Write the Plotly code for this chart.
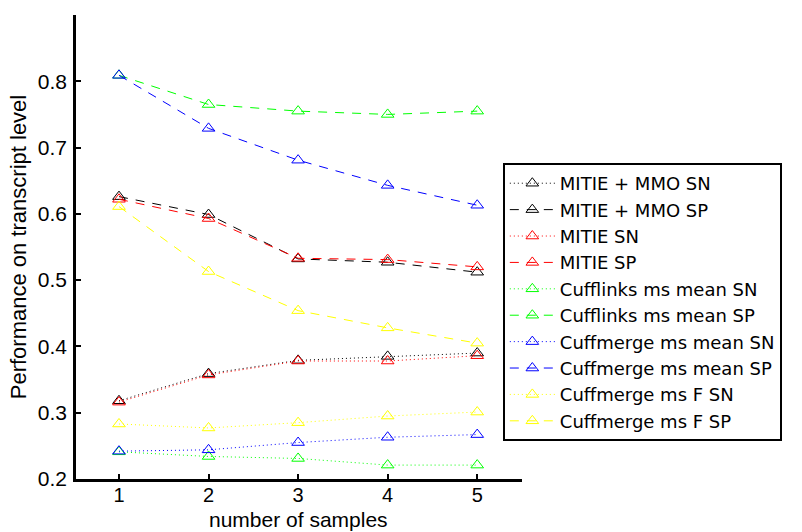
import plotly.graph_objects as go

samples = [1, 2, 3, 4, 5]

names = [
    "MITIE + MMO SN", "MITIE + MMO SP",
    "MITIE SN", "MITIE SP",
    "Cufflinks ms mean SN", "Cufflinks ms mean SP",
    "Cuffmerge ms mean SN", "Cuffmerge ms mean SP",
    "Cuffmerge ms F SN", "Cuffmerge ms F SP",
]

mitie_mmo_sn = [0.318, 0.359, 0.379, 0.385, 0.390]
mitie_mmo_sp = [0.626, 0.599, 0.532, 0.527, 0.512]
mitie_sn = [0.316, 0.357, 0.378, 0.378, 0.386]
mitie_sp = [0.622, 0.593, 0.533, 0.531, 0.520]
cufflinks_mean_sn = [0.241, 0.234, 0.231, 0.221, 0.221]
cufflinks_mean_sp = [0.809, 0.765, 0.755, 0.750, 0.755]
cuffmerge_mean_sn = [0.242, 0.244, 0.255, 0.263, 0.267]
cuffmerge_mean_sp = [0.809, 0.729, 0.681, 0.643, 0.613]
cuffmerge_f_sn = [0.283, 0.277, 0.285, 0.295, 0.301]
cuffmerge_f_sp = [0.611, 0.513, 0.454, 0.428, 0.405]

series = [mitie_mmo_sn, mitie_mmo_sp, mitie_sn, mitie_sp,
          cufflinks_mean_sn, cufflinks_mean_sp,
          cuffmerge_mean_sn, cuffmerge_mean_sp,
          cuffmerge_f_sn, cuffmerge_f_sp]
colors = ["#000000", "#000000", "#ff0000", "#ff0000", "#00ff00", "#00ff00",
          "#0000ff", "#0000ff", "#ffff00", "#ffff00"]

y_ticks = [0.2, 0.3, 0.4, 0.5, 0.6, 0.7, 0.8, 0.9]
y_ticktext = ["0.2", "0.3", "0.4", "0.5", "0.6", "0.7", "0.8", ""]

fig = go.Figure()
for i, (name, vals, col) in enumerate(zip(names, series, colors)):
    dash = "1px,3px" if name.endswith("SN") else "9px,8px"
    fig.add_trace(go.Scatter(
        x=samples, y=vals, name=name, mode="lines+markers",
        line=dict(color=col, width=1, dash=dash),
        marker=dict(symbol="triangle-up-open", size=11, color=col,
                    line=dict(color=col, width=1)),
    ))

font = "Liberation Sans, Arial, Helvetica, sans-serif"
fig.update_layout(
    width=802, height=532,
    margin=dict(l=76, r=280, t=15, b=53, autoexpand=False),
    paper_bgcolor="white", plot_bgcolor="white",
    font=dict(family=font, size=21, color="black"),
    showlegend=True,
    legend=dict(
        x=0.957, y=0.681, xanchor="left", yanchor="top",
        bgcolor="white", bordercolor="black", borderwidth=2,
        font=dict(family="DejaVu Sans, sans-serif", size=18, color="black"),
        itemwidth=45, tracegroupgap=0,
    ),
    xaxis=dict(
        range=[0.52, 5.5], tickvals=samples, ticktext=[str(s) for s in samples],
        showgrid=False, zeroline=False, showline=True, linecolor="black",
        linewidth=2.5, ticks="inside", ticklen=5, tickwidth=2, tickcolor="black",
        tickfont=dict(size=20), ticklabelstandoff=-4, automargin=False,
    ),
    yaxis=dict(
        range=[0.2, 0.9], tickvals=y_ticks, ticktext=y_ticktext,
        showgrid=False, zeroline=False, showline=True, linecolor="black",
        linewidth=2.5, ticks="inside", ticklen=5, tickwidth=2, tickcolor="black",
        tickfont=dict(size=21), ticklabelstandoff=2, automargin=False,
        title=dict(text="Performance on transcript level", font=dict(size=22), standoff=6),
    ),
    annotations=[dict(
        text="number of samples", xref="x", yref="paper", x=3, y=0,
        xanchor="center", yanchor="middle", yshift=-40, showarrow=False,
        borderpad=0, font=dict(size=21, family=font, color="black"),
    )],
)

fig.write_html("out.html")
